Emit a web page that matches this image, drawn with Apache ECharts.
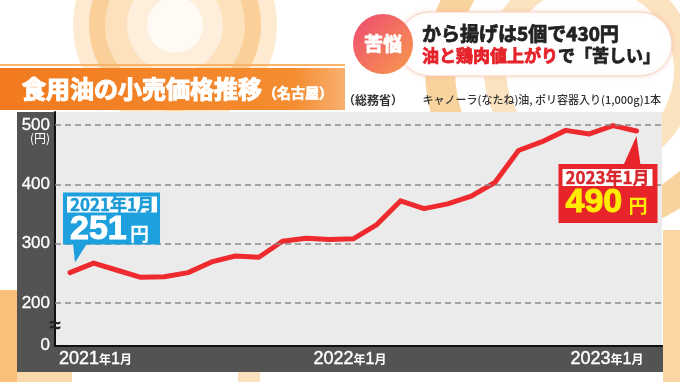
<!DOCTYPE html>
<html><head><meta charset="utf-8">
<script src="https://cdn.jsdelivr.net/npm/echarts@6/dist/echarts.min.js"></script>
<style>html,body{margin:0;padding:0;background:#fff;}#chart{width:680px;height:382px;}</style>
</head><body><div id="chart"></div>
<script>
// ---- data ----
const months = ['2021年1月','2021年2月','2021年3月','2021年4月','2021年5月','2021年6月','2021年7月','2021年8月','2021年9月','2021年10月','2021年11月','2021年12月','2022年1月','2022年2月','2022年3月','2022年4月','2022年5月','2022年6月','2022年7月','2022年8月','2022年9月','2022年10月','2022年11月','2022年12月','2023年1月'];
const prices = [251,267,255,243,244,251,269,279,277,304,309,307,308,332,372,359,367,380,403,457,472,491,485,499,490];
const xTickMonths = ['2021年1月','2022年1月','2023年1月'];
const yTickValues = [0,200,300,400,500];
const gridLineValues = [200,300,400,500];
const firstCallout = {month:'2021年1月', price:'251', unit:'円'};
const lastCallout = {month:'2023年1月', price:'490', unit:'円'};
const titleMain = '食用油の小売価格推移';
const titleSub = '（名古屋）';
const sourceText = '（総務省）';
const noteText = 'キャノーラ(なたね)油, ポリ容器入り(1,000g)1本';
const headline1 = 'から揚げは5個で430円';
const headline2a = '油と鶏肉値上がり';
const headline2b = 'で「苦しい」';
const badgeText = '苦悩';

// ---- layout / style ----
const Y_BREAK = 128;        // bottom of the broken axis stands for 0
const X_MIN = -0.636, X_MAX = 25.08;
const xLabelShift = [1.08, -0.14, -1.25];
const xLabelPos = xTickMonths.map((m,i)=>months.indexOf(m)+xLabelShift[i]);
const JP = '"Noto Sans CJK JP","Noto Sans",sans-serif';
const NUM = '"Liberation Sans",Arial,sans-serif';

function labelRich(s){ const m = s.match(/^(\d+)年(\d+)月$/); return '{y|'+m[1]+'}{k|年}{n|'+m[2]+'}{k|月}'; }

const chart = echarts.init(document.getElementById('chart'), null, {renderer:'canvas'});

const option = {
  animation:false,
  backgroundColor:'#ffffff',
  grid:{left:55, right:18, top:112, bottom:36.5, show:true, backgroundColor:'#ebebeb', borderWidth:0},
  xAxis:{type:'value', min:X_MIN, max:X_MAX,
    axisLine:{show:true, onZero:false, lineStyle:{color:'#111', width:2}},
    axisTick:{show:false}, splitLine:{show:false},
    axisLabel:{customValues:xLabelPos, margin:5, color:'#fff',
      formatter:function(v){ const k = xLabelPos.findIndex(p=>Math.abs(p-v)<1e-3); return k<0?'':labelRich(xTickMonths[k]); },
      rich:{ y:{fontFamily:NUM, fontSize:18, color:'#fff', textBorderColor:'#fff', textBorderWidth:0.4},
             k:{fontFamily:JP, fontSize:12, color:'#fff', fontWeight:'bold'},
             n:{fontFamily:NUM, fontSize:16, color:'#fff', textBorderColor:'#fff', textBorderWidth:0.4} } } },
  yAxis:{type:'value', min:Y_BREAK, max:522,
    axisLine:{show:true, onZero:false, lineStyle:{color:'#111', width:2}},
    axisTick:{show:false}, splitLine:{show:false},
    axisLabel:{customValues:yTickValues.map(v=>v===0?Y_BREAK:v),
      formatter:function(v){ return v<=Y_BREAK+0.5?'0':String(v); },
      color:'#fff', fontFamily:NUM, fontSize:17, margin:5, textBorderColor:'#fff', textBorderWidth:0.3} },
  series:[
    {type:'line', data:prices.map((v,i)=>[i,v]), symbol:'none', silent:true, z:1,
     lineStyle:{opacity:0},
     markLine:{silent:true, symbol:'none', label:{show:false},
       lineStyle:{color:'#8c8c8c', type:[6,4], width:1.5},
       data:gridLineValues.map(v=>({yAxis:v}))}},
    {type:'line', data:prices.map((v,i)=>[i,v]), symbol:'none', showSymbol:false, z:3,
     lineStyle:{color:'#ef2a2e', width:5, join:'round', cap:'round'}}
  ]
};
chart.setOption(option);

const p0 = chart.convertToPixel({gridIndex:0}, [0, prices[0]]);
const pN = chart.convertToPixel({gridIndex:0}, [prices.length-1, prices[prices.length-1]]);

const g = [];
// background decorations
const deco = [
  {type:'circle', shape:{cx:175, cy:25, r:102}, style:{fill:'#fdead0'}},
  {type:'circle', shape:{cx:175, cy:25, r:86}, style:{fill:'#facf98'}},
  {type:'circle', shape:{cx:175, cy:25, r:70}, style:{fill:'#fde1bd'}},
  {type:'circle', shape:{cx:175, cy:25, r:48}, style:{fill:'#feefdc'}},
  {type:'circle', shape:{cx:175, cy:25, r:28}, style:{fill:'#fffaf3'}},
  {type:'circle', shape:{cx:590, cy:70, r:150}, style:{fill:null, stroke:'#f9d39e', lineWidth:30}},
  {type:'circle', shape:{cx:590, cy:70, r:95}, style:{fill:null, stroke:'#fce3c0', lineWidth:22}},
  {type:'rect', shape:{x:0, y:290, width:17, height:92}, style:{fill:'#f8c07a'}},
  {type:'rect', shape:{x:663, y:230, width:17, height:152}, style:{fill:'#fbd6a4'}},
  {type:'rect', shape:{x:17, y:372, width:55, height:10}, style:{fill:'#fbd8aa'}},
  {type:'rect', shape:{x:238, y:372, width:22, height:10}, style:{fill:'#fbe1be'}}
];
deco.forEach(d=>{ d.z=-5; d.silent=true; g.push(d); });

// title band
g.push({type:'rect', z:-2, shape:{x:0, y:64, width:345, height:2}, style:{fill:'#f9b46a'}});
g.push({type:'rect', z:-2, shape:{x:0, y:68, width:345, height:42}, style:{fill:new echarts.graphic.LinearGradient(0,0,1,0,[{offset:0,color:'#f27a1e'},{offset:0.85,color:'#f48c30'},{offset:1,color:'#f8b070'}])}});
g.push({type:'text', z:6, x:22, y:89, style:{text:titleMain, fill:'#fff', stroke:'#fff', lineWidth:1.2, font:'bold 24px '+JP, verticalAlign:'middle', align:'left'}});
g.push({type:'text', z:6, x:263, y:93, style:{text:titleSub, fill:'#fff', stroke:'#fff', lineWidth:0.6, font:'bold 14px '+JP, verticalAlign:'middle', align:'left'}});

// dark frame
g.push({type:'rect', z:-1, shape:{x:17, y:112, width:38, height:260}, style:{fill:'rgba(55,55,55,0.86)'}});
g.push({type:'rect', z:-1, shape:{x:55, y:345, width:608, height:27}, style:{fill:'rgba(55,55,55,0.86)'}});
g.push({type:'text', z:6, x:50, y:138, style:{text:'(円)', fill:'#fff', font:'12px '+JP, align:'right', verticalAlign:'middle'}});
g.push({type:'text', z:6, x:55, y:326, style:{text:'≈', fill:'#222', font:'bold 21px '+NUM, align:'center', verticalAlign:'middle'}});

// source / note
g.push({type:'text', z:6, x:343, y:100, style:{text:sourceText, fill:'#333', font:'bold 12px '+JP, align:'left', verticalAlign:'middle'}});
g.push({type:'text', z:6, x:661, y:100, style:{text:noteText, fill:'#333', font:'500 11px '+JP, align:'right', verticalAlign:'middle'}});

// headline pill
g.push({type:'rect', z:5, shape:{x:398, y:12, width:274, height:64, r:32}, style:{fill:'#fff', stroke:'#f7d3c6', lineWidth:1, shadowBlur:5, shadowColor:'rgba(240,120,80,0.25)'}});
g.push({type:'circle', z:6, shape:{cx:383, cy:44, r:30}, style:{fill:new echarts.graphic.LinearGradient(0,0,1,1,[{offset:0,color:'#ee4a72'},{offset:1,color:'#f79a4c'}])}});
g.push({type:'text', z:7, x:383, y:44, style:{text:badgeText, fill:'#fff', stroke:'#fff', lineWidth:0.8, font:'bold 19px '+JP, align:'center', verticalAlign:'middle'}});
g.push({type:'text', z:7, x:422, y:34, style:{text:headline1, fill:'#222', stroke:'#222', lineWidth:0.8, font:'bold 19px '+JP, align:'left', verticalAlign:'middle'}});
g.push({type:'text', z:7, x:422, y:56, style:{text:'{r|'+headline2a+'}{b|'+headline2b+'}', align:'left', verticalAlign:'middle',
  rich:{r:{fill:'#e6232a', stroke:'#e6232a', lineWidth:0.8, font:'bold 17px '+JP}, b:{fill:'#222', stroke:'#222', lineWidth:0.8, font:'bold 17px '+JP}}}});

// first callout (blue)
const blue = '#1ea0de';
g.push({type:'group', z:20, x:p0[0], y:p0[1], children:[
  {type:'rect', z:20, shape:{x:-7, y:-80, width:97, height:52}, style:{fill:blue}},
  {type:'polygon', z:20, shape:{points:[[3,-29],[17,-29],[5,-10]]}, style:{fill:blue}},
  {type:'rect', z:21, shape:{x:-3, y:-76, width:90, height:16}, style:{fill:'#fff'}},
  {type:'text', z:22, x:42, y:-68, style:{text:firstCallout.month, fill:'#1a9ad6', stroke:'#1a9ad6', lineWidth:0.4, font:'bold 17px '+JP, align:'center', verticalAlign:'middle'}},
  {type:'text', z:22, x:0, y:-43, style:{text:firstCallout.price, fill:'#fff', stroke:'#fff', lineWidth:1, font:'bold 34px '+NUM, align:'left', verticalAlign:'middle'}},
  {type:'text', z:22, x:60, y:-39, style:{text:firstCallout.unit, fill:'#fff', font:'bold 19px '+JP, align:'left', verticalAlign:'middle'}}
]});
// last callout (red)
const red = '#e8242b';
g.push({type:'group', z:20, x:pN[0], y:pN[1], children:[
  {type:'rect', z:20, shape:{x:-78, y:33, width:99, height:59}, style:{fill:red}},
  {type:'polygon', z:20, shape:{points:[[-13,34],[4,34],[0,5]]}, style:{fill:red}},
  {type:'rect', z:21, shape:{x:-74, y:38, width:90, height:17}, style:{fill:'#fff'}},
  {type:'text', z:22, x:-29, y:46.5, style:{text:lastCallout.month, fill:'#d7262c', stroke:'#d7262c', lineWidth:0.4, font:'bold 17px '+JP, align:'center', verticalAlign:'middle'}},
  {type:'text', z:22, x:-71, y:72, style:{text:lastCallout.price, fill:'#ffec00', stroke:'#ffec00', lineWidth:1, font:'bold 34px '+NUM, align:'left', verticalAlign:'middle'}},
  {type:'text', z:22, x:-8, y:75, style:{text:lastCallout.unit, fill:'#ffec00', font:'bold 19px '+JP, align:'left', verticalAlign:'middle'}}
]});

chart.setOption({graphic:{elements:g}});
</script>
</body></html>
